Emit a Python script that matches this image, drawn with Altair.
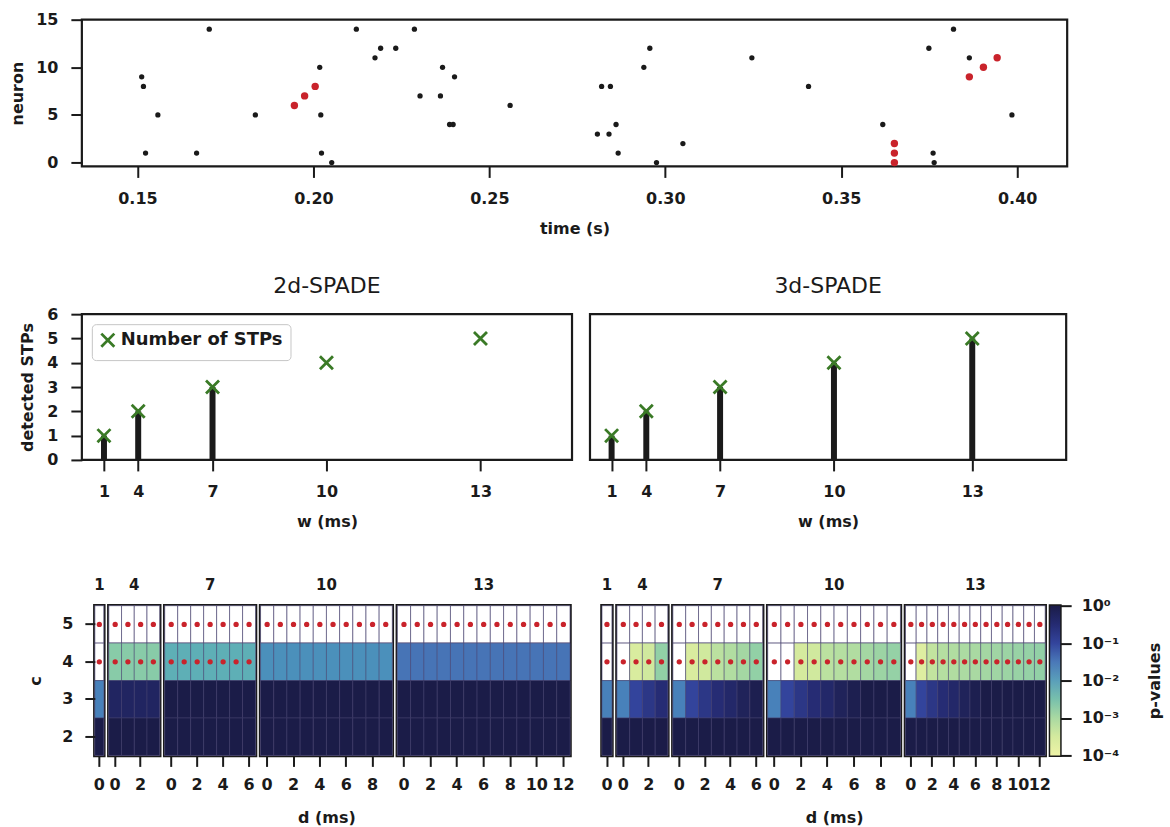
import altair as alt
import pandas as pd

FONT = "DejaVu Sans"
INK = "#1a1a1a"
RED = "#c9232b"
GREEN = "#3a7a26"
CELL_EDGE = "#4a4572"

# ---------------- raster (top) ----------------
SPIKE_TIME = [0.1512, 0.1517, 0.1523, 0.1558, 0.1668, 0.1704, 0.1835, 0.2018, 0.2021, 0.2023,
              0.2052, 0.2122, 0.2175, 0.2191, 0.2234, 0.2287, 0.2303, 0.2361, 0.2367, 0.2387,
              0.2397, 0.2401, 0.2559, 0.2807, 0.2819, 0.2840, 0.2844, 0.2860, 0.2866, 0.2939,
              0.2956, 0.2975, 0.3050, 0.3246, 0.3407, 0.3618, 0.3749, 0.3761, 0.3764, 0.3819,
              0.3864, 0.3985]
SPIKE_NEURON = [9, 8, 1, 5, 1, 14, 5, 10, 5, 1,
                0, 14, 11, 12, 12, 14, 7, 7, 10, 4,
                4, 9, 6, 3, 8, 3, 8, 4, 1, 10,
                12, 0, 2, 11, 8, 4, 12, 1, 0, 14,
                11, 5]
PATTERN_TIME = [0.1946, 0.1975, 0.2005, 0.3651, 0.3651, 0.3651, 0.3864, 0.3904, 0.3943]
PATTERN_NEURON = [6, 7, 8, 2, 1, 0, 9, 10, 11]
TIME_TICKS = [0.15, 0.20, 0.25, 0.30, 0.35, 0.40]
NEURON_TICKS = [0, 5, 10, 15]

# ---------------- detected STPs (middle) ----------------
W_VALUES = [1, 4, 7, 10, 13]
N_STPS = [1, 2, 3, 4, 5]
DETECTED_2D = [1, 2, 3, 0, 0]
DETECTED_3D = [1, 2, 3, 4, 5]
STP_TICKS = [0, 1, 2, 3, 4, 5, 6]

# ---------------- p-value grids (bottom) ----------------
C_LEVELS = [5, 4, 3, 2]
# one list per panel (w = 1, 4, 7, 10, 13), entries for d = 0 .. w-1; None = no value (white)
P2D_C5 = [[None], [None, None, None, None], [None, None, None, None, None, None, None],
          [None, None, None, None, None, None, None, None, None, None],
          [None, None, None, None, None, None, None, None, None, None, None, None, None]]
P2D_C4 = [[None], [0.002, 0.002, 0.002, 0.002],
          [0.006, 0.006, 0.006, 0.006, 0.006, 0.006, 0.006],
          [0.016, 0.016, 0.016, 0.016, 0.016, 0.016, 0.016, 0.016, 0.016, 0.016],
          [0.035, 0.035, 0.035, 0.035, 0.035, 0.035, 0.035, 0.035, 0.035, 0.035, 0.035, 0.035, 0.035]]
P2D_C3 = [[0.025], [0.5, 0.5, 0.5, 0.5], [1.0, 1.0, 1.0, 1.0, 1.0, 1.0, 1.0],
          [1.0, 1.0, 1.0, 1.0, 1.0, 1.0, 1.0, 1.0, 1.0, 1.0],
          [1.0, 1.0, 1.0, 1.0, 1.0, 1.0, 1.0, 1.0, 1.0, 1.0, 1.0, 1.0, 1.0]]
P2D_C2 = [[1.0], [1.0, 1.0, 1.0, 1.0], [1.0, 1.0, 1.0, 1.0, 1.0, 1.0, 1.0],
          [1.0, 1.0, 1.0, 1.0, 1.0, 1.0, 1.0, 1.0, 1.0, 1.0],
          [1.0, 1.0, 1.0, 1.0, 1.0, 1.0, 1.0, 1.0, 1.0, 1.0, 1.0, 1.0, 1.0]]

P3D_C5 = [[None], [None, None, None, None], [None, None, None, None, None, None, None],
          [None, None, None, None, None, None, None, None, None, None],
          [None, None, None, None, None, None, None, None, None, None, None, None, None]]
P3D_C4 = [[None], [None, 0.00025, 0.00035, 0.0016],
          [None, 0.00025, 0.00035, 0.0006, 0.0008, 0.0011, 0.0016],
          [None, None, 0.0003, 0.00035, 0.0006, 0.0007, 0.0008, 0.0011, 0.0013, 0.0015],
          [None, 0.0002, 0.0005, 0.0007, 0.0008, 0.0009, 0.001, 0.0011, 0.0012, 0.0013, 0.0014, 0.0015, 0.0016]]
P3D_C3 = [[0.025], [0.025, 0.1, 0.18, 0.3],
          [0.025, 0.1, 0.18, 0.3, 0.4, 0.6, 0.8],
          [0.025, 0.1, 0.18, 0.3, 0.4, 0.6, 0.8, 1.0, 1.0, 1.0],
          [0.025, 0.1, 0.18, 0.3, 0.4, 0.6, 0.8, 1.0, 1.0, 1.0, 1.0, 1.0, 1.0]]
P3D_C2 = [[1.0], [1.0, 1.0, 1.0, 1.0], [1.0, 1.0, 1.0, 1.0, 1.0, 1.0, 1.0],
          [1.0, 1.0, 1.0, 1.0, 1.0, 1.0, 1.0, 1.0, 1.0, 1.0],
          [1.0, 1.0, 1.0, 1.0, 1.0, 1.0, 1.0, 1.0, 1.0, 1.0, 1.0, 1.0, 1.0]]

# rows (c values) marked with a red dot, per panel
DOT_ROWS_2D = [[5, 4], [5, 4], [5, 4], [5], [5]]
DOT_ROWS_3D = [[5, 4], [5, 4], [5, 4], [5, 4], [5, 4]]

CBAR_TICKS = [1e-4, 1e-3, 1e-2, 1e-1, 1.0]
PALETTE = ["#eef3a6", "#d4ea9e", "#a9d9a2", "#78c0ac", "#5a9fba",
           "#4a78b8", "#33449c", "#252b72", "#1b1c48"]

# ---------------- layout ----------------
TOP_W, TOP_H = 987, 147
MID_W = [491, 477]
MID_H = 146
MID_GAP = 18
HM_H = 150
PANEL_W_2D = [9, 51, 91, 132, 173]
PANEL_W_3D = [10, 51, 90, 133, 140]
HM_GAP = 5
LEAD = 8
GROUP_SPACER = 22
CBAR_W = 10
GAP_TOP_MID = 148
GAP_MID_BOTTOM = MID_H + 146
LOG_DOMAIN = [10 ** (e / 2) for e in range(-8, 1)]
XPATH = "M-1,-1L1,1M-1,1L1,-1"


def centers(widths, start):
    out, x = [], start
    for wd in widths:
        out.append(x + wd / 2)
        x += wd + HM_GAP
    return out


left_start = LEAD + HM_GAP
right_start = left_start + sum(PANEL_W_2D) + HM_GAP * len(PANEL_W_2D) + GROUP_SPACER + HM_GAP
CENTERS_2D = centers(PANEL_W_2D, left_start)
CENTERS_3D = centers(PANEL_W_3D, right_start - (MID_W[0] + MID_GAP))

# ---------------- top raster ----------------
tx = alt.X("t:Q", scale=alt.Scale(domain=[0.1342, 0.4142], nice=False, zero=False),
           axis=alt.Axis(values=TIME_TICKS, format=".2f", title="time (s)"))
ty = alt.Y("n:Q", scale=alt.Scale(domain=[-0.4, 15], nice=False, zero=False),
           axis=alt.Axis(values=NEURON_TICKS, title="neuron", titlePadding=10))
black = alt.Chart(pd.DataFrame({"t": SPIKE_TIME, "n": SPIKE_NEURON})).mark_circle(
    size=28, color=INK, opacity=1).encode(x=tx, y=ty)
red = alt.Chart(pd.DataFrame({"t": PATTERN_TIME, "n": PATTERN_NEURON})).mark_circle(
    size=55, color=RED, opacity=1).encode(x=tx, y=ty)
top = alt.layer(black, red).properties(width=TOP_W, height=TOP_H)


# ---------------- middle ----------------
def mid_chart(detected, ctrs, width, left, title):
    df = pd.DataFrame({"pos": ctrs, "n": N_STPS, "det": detected,
                       "series": ["Number of STPs"] * len(ctrs)})
    expr = "[" + ",".join("'%d'" % w for w in W_VALUES) + "][indexof([" + \
        ",".join(repr(float(c)) for c in ctrs) + "], datum.value)]"
    x = alt.X("pos:Q", scale=alt.Scale(domain=[0, width], nice=False, zero=False),
              axis=alt.Axis(values=ctrs, labelExpr=expr, title="w (ms)"))
    ysc = alt.Scale(domain=[0, 6], nice=False, zero=False)
    if left:
        yax = alt.Axis(values=STP_TICKS, title="detected STPs", titlePadding=11)
    else:
        yax = None
    bars = alt.Chart(df).mark_bar(size=6, color=INK).encode(
        x=x, y=alt.Y("det:Q", scale=ysc, axis=yax))
    enc = dict(x=x, y=alt.Y("n:Q", scale=ysc, axis=yax))
    if left:
        enc["shape"] = alt.Shape("series:N", scale=alt.Scale(range=[XPATH]), legend=alt.Legend(
            title=None, orient="top-left", offset=10, padding=7, strokeColor="#c6c6c6",
            fillColor="white", cornerRadius=4, labelFont=FONT, labelFontSize=18,
            labelFontWeight="bold", labelColor=INK, labelLimit=400, symbolSize=170,
            symbolStrokeWidth=2.8, symbolStrokeColor=GREEN, symbolFillColor="transparent"))
    marks = alt.Chart(df).mark_point(shape=XPATH, filled=False, size=170, strokeWidth=2.8,
                                      color=GREEN, opacity=1).encode(**enc)
    return alt.layer(bars, marks).properties(
        width=width, height=MID_H,
        title=alt.TitleParams(title, font=FONT, fontSize=22, fontWeight="normal", color=INK,
                              offset=8 if left else 16, anchor="middle"))


mid = alt.hconcat(mid_chart(DETECTED_2D, CENTERS_2D, MID_W[0], True, "2d-SPADE"),
                  mid_chart(DETECTED_3D, CENTERS_3D, MID_W[1], False, "3d-SPADE"),
                  spacing=MID_GAP, bounds="flush").resolve_scale(
    x="independent", y="independent").resolve_legend(shape="independent")


# ---------------- bottom heatmaps ----------------
def heat_panel(p_rows, dot_rows, k, width, show_y, show_xtitle):
    w = W_VALUES[k]
    recs = []
    for c, row in zip(C_LEVELS, p_rows):
        for d in range(w):
            recs.append({"d": d, "c": c, "p": row[k][d], "dot": c in dot_rows[k]})
    df = pd.DataFrame(recs)
    x = alt.X("d:O", scale=alt.Scale(domain=list(range(w)), paddingInner=0, paddingOuter=0),
              axis=alt.Axis(values=list(range(0, w, 2)), labelAngle=0, labelPadding=10,
                            title="d (ms)" if show_xtitle else "", titlePadding=17))
    if show_y:
        yax = alt.Axis(title="c", titlePadding=18, labelPadding=12, tickSize=10)
    else:
        yax = None
    y = alt.Y("c:O", scale=alt.Scale(domain=C_LEVELS, paddingInner=0, paddingOuter=0), axis=yax)
    base = alt.Chart(df)
    white = base.mark_rect(fill="white", stroke=CELL_EDGE, strokeWidth=0.9,
                           strokeOpacity=0.75).encode(x=x, y=y)
    colored = base.transform_filter("isValid(datum.p)").mark_rect(
        stroke=CELL_EDGE, strokeWidth=0.9, strokeOpacity=0.55).encode(
        x=x, y=y, color=alt.Color("p:Q", scale=alt.Scale(type="log", domain=LOG_DOMAIN,
                                                          range=PALETTE), legend=None))
    dots = base.transform_filter("datum.dot").mark_circle(size=28, color=RED, opacity=1).encode(x=x, y=y)
    return alt.layer(white, colored, dots).properties(
        width=width, height=HM_H,
        view=alt.ViewBackground(stroke=INK, strokeWidth=3.5),
        title=alt.TitleParams(str(w), font=FONT, fontSize=15, fontWeight="bold", color=INK,
                              offset=12, anchor="middle"))


def spacer(width, height):
    return alt.Chart(pd.DataFrame({"k": [0]})).mark_point(opacity=0).encode(
        x=alt.value(0), y=alt.value(0)).properties(
        width=width, height=height, view=alt.ViewBackground(stroke="transparent"))


rows2d = [P2D_C5, P2D_C4, P2D_C3, P2D_C2]
rows3d = [P3D_C5, P3D_C4, P3D_C3, P3D_C2]
left_panels = [heat_panel(rows2d, DOT_ROWS_2D, k, PANEL_W_2D[k], k == 0, k == 3) for k in range(5)]
right_panels = [heat_panel(rows3d, DOT_ROWS_3D, k, PANEL_W_3D[k], False, k == 3) for k in range(5)]

grad = alt.Gradient(gradient="linear",
                    stops=[alt.GradientStop(color=c, offset=i / (len(PALETTE) - 1))
                           for i, c in enumerate(PALETTE)],
                    x1=0, x2=0, y1=1, y2=0)
cbar = alt.Chart(pd.DataFrame({"lo": [CBAR_TICKS[0]], "hi": [CBAR_TICKS[-1]]})).mark_rect(
    fill=grad).encode(
    x=alt.value(0), x2=alt.value(CBAR_W),
    y=alt.Y("lo:Q", scale=alt.Scale(type="log", domain=[CBAR_TICKS[0], CBAR_TICKS[-1]], nice=False),
            axis=alt.Axis(orient="right", values=CBAR_TICKS,
                          labelExpr="'10' + ['\u2070','\u207b\u00b9','\u207b\u00b2','\u207b\u00b3','\u207b\u2074'][round(-log(datum.value) / LN10)]",
                          title="p-values", titleAngle=270, titlePadding=44, labelPadding=10)),
    y2="hi:Q").properties(width=CBAR_W, height=HM_H,
                          view=alt.ViewBackground(stroke=INK, strokeWidth=3))

bottom = alt.hconcat(*([spacer(LEAD, HM_H)] + left_panels + [spacer(GROUP_SPACER, HM_H)] +
                       right_panels + [cbar]),
                     spacing=HM_GAP, bounds="flush").resolve_scale(x="independent", y="independent")

# nested concat groups count as zero height in a flush layout, so explicit gaps hold them apart
chart = alt.vconcat(top, spacer(1, GAP_TOP_MID), mid, spacer(1, GAP_MID_BOTTOM), bottom,
                    spacing=0, bounds="flush").resolve_scale(
    x="independent", y="independent").resolve_legend(shape="independent").properties(
    padding={"left": 8, "top": 9, "right": 5, "bottom": 5}
).configure_view(stroke=INK, strokeWidth=2.2).configure_axis(
    domain=False, grid=False, ticks=True, tickColor=INK, tickWidth=2, tickSize=11,
    labelFont=FONT, labelFontSize=16, labelFontWeight="bold", labelColor=INK, labelPadding=13,
    titleFont=FONT, titleFontSize=16, titleFontWeight="bold", titleColor=INK, titlePadding=14
).configure_axisLeft(labelPadding=13)

chart.save("out.html", embed_options={"renderer": "svg", "actions": False})
